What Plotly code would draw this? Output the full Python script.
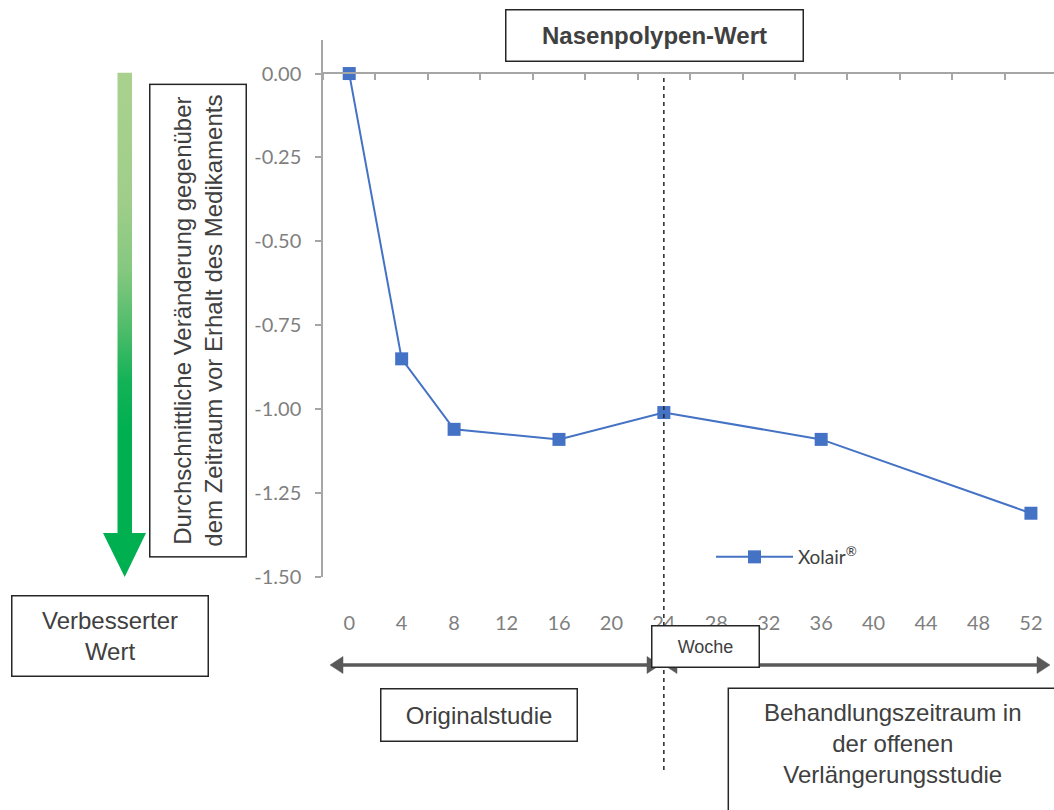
import plotly.graph_objects as go

# ---- data -------------------------------------------------------------
weeks = [0, 4, 8, 16, 24, 36, 52]
xolair_change = [0.00, -0.85, -1.06, -1.09, -1.01, -1.09, -1.31]

x_tick_vals = [0, 4, 8, 12, 16, 20, 24, 28, 32, 36, 40, 44, 48, 52]
x_tick_text = [str(v) for v in x_tick_vals]
y_tick_vals = [0.00, -0.25, -0.50, -0.75, -1.00, -1.25, -1.50]
y_tick_text = ["0.00", "-0.25", "-0.50", "-0.75", "-1.00", "-1.25", "-1.50"]

series_name = "Xolair<sup>®</sup>"
title_text = "Nasenpolypen-Wert"
y_title_text = "Durchschnittliche Veränderung gegenüber<br>dem Zeitraum vor Erhalt des Medikaments"
improved_text = "Verbesserter<br>Wert"
x_title_text = "Woche"
phase1_text = "Originalstudie"
phase2_text = "Behandlungszeitraum in<br>der offenen<br>Verlängerungsstudie"
split_week = 24

# ---- page geometry (pixels) ------------------------------------------
W, H = 1054, 810


def px(x):
    return x / W


def py(y):
    return 1 - y / H


SANS = "Liberation Sans, Arial, sans-serif"
HUMAN = "Lato, Open Sans, sans-serif"
TXT = "#404040"
AXIS = "#a6a6a6"
BLUE = "#4472c4"

fig = go.Figure()

fig.add_trace(go.Scatter(
    x=weeks, y=xolair_change, name=series_name, mode="lines+markers",
    line=dict(color=BLUE, width=2),
    marker=dict(symbol="square", size=13, color=BLUE),
    xaxis="x", yaxis="y",
))

# empty trace so the zero-line axis (x2) gets drawn
fig.add_trace(go.Scatter(x=[], y=[], xaxis="x2", yaxis="y",
                         showlegend=False, hoverinfo="skip"))

# gradient arrow on a pixel-unit overlay axis
arrow_x = [117.5, 132, 132, 146, 124.7, 103, 117.5, 117.5]
arrow_y = [72.7, 72.7, 533, 533, 577, 533, 533, 72.7]
fig.add_trace(go.Scatter(
    x=arrow_x, y=arrow_y, mode="lines", line=dict(width=0),
    fill="toself",
    fillgradient=dict(
        type="vertical", start=72.7, stop=577,
        colorscale=[[0.0, "#a9d18e"], [0.25, "#a0ce8a"], [0.39, "#86c880"],
                    [0.51, "#4dbc6a"], [0.61, "#14b257"], [0.71, "#00b050"],
                    [1.0, "#00b050"]],
    ),
    showlegend=False, hoverinfo="skip", xaxis="x3", yaxis="y3",
))

plot_left, plot_top, plot_bottom = 323, 40, 577

fig.update_layout(
    width=W, height=H, autosize=False,
    margin=dict(l=0, r=0, t=0, b=0, pad=0, autoexpand=False),
    paper_bgcolor="white", plot_bgcolor="rgba(0,0,0,0)",
    showlegend=True,
    legend=dict(x=px(711), y=py(557), xanchor="left", yanchor="middle",
                itemwidth=77,
                bgcolor="rgba(0,0,0,0)", font=dict(family=HUMAN, size=19, color=TXT)),
    xaxis=dict(
        domain=[px(plot_left), 1.0], range=[-2, 53.76], anchor="y",
        showline=False, showgrid=False, zeroline=False, ticks="",
        tickmode="array", tickvals=x_tick_vals, ticktext=x_tick_text,
        tickfont=dict(family=HUMAN, size=20, color="#7f7f7f"),
        ticklabelstandoff=32, automargin=False,
    ),
    xaxis2=dict(
        overlaying="x", anchor="free", position=py(73), side="bottom",
        range=[-2, 53.76], showline=True, linecolor=AXIS, linewidth=1.5,
        ticks="outside", ticklen=6, tickwidth=1.5, tickcolor=AXIS,
        tickmode="linear", tick0=2, dtick=4, showticklabels=False,
        showgrid=False, zeroline=False, automargin=False,
    ),
    yaxis=dict(
        domain=[py(plot_bottom), py(plot_top)], range=[-1.5, 0.1], anchor="x",
        showline=True, linecolor=AXIS, linewidth=1.5,
        ticks="outside", ticklen=6, tickwidth=1.5, tickcolor=AXIS,
        tickmode="array", tickvals=y_tick_vals, ticktext=y_tick_text,
        tickfont=dict(family=HUMAN, size=20, color="#7f7f7f"),
        ticklabelstandoff=10, showgrid=False, zeroline=False, automargin=False,
    ),
    xaxis3=dict(domain=[0, 1], range=[0, W], anchor="y3", visible=False,
                fixedrange=True, automargin=False),
    yaxis3=dict(domain=[0, 1], range=[H, 0], anchor="x3", visible=False,
                fixedrange=True, automargin=False),
)

# dashed separator at the end of the original study
fig.add_shape(type="line", xref="x", yref="paper", x0=split_week, x1=split_week,
              y0=py(770), y1=py(74), line=dict(color="#262626", width=1.5, dash="4px,4px"))

# open-ended box for the extension phase
fig.add_shape(type="rect", xref="paper", yref="paper",
              x0=px(728.3), x1=px(1058), y0=py(850), y1=py(688.3),
              line=dict(color="#262626", width=1.5), fillcolor="white", layer="above")

# double-headed period arrows
ARROW = "#595959"
ARROW_Y, HEAD_LEN, HEAD_HALF = 665, 13, 8.5


def period_arrow(x_left, x_right):
    fig.add_shape(type="line", xref="paper", yref="paper",
                  x0=px(x_left + HEAD_LEN - 1), x1=px(x_right - HEAD_LEN + 1),
                  y0=py(ARROW_Y), y1=py(ARROW_Y),
                  line=dict(color=ARROW, width=3.5))
    for tip, base in [(x_left, x_left + HEAD_LEN), (x_right, x_right - HEAD_LEN)]:
        path = (f"M {px(tip)},{py(ARROW_Y)} L {px(base)},{py(ARROW_Y - HEAD_HALF)} "
                f"L {px(base)},{py(ARROW_Y + HEAD_HALF)} Z")
        fig.add_shape(type="path", xref="paper", yref="paper", path=path,
                      fillcolor=ARROW, line=dict(color=ARROW, width=0.5))


period_arrow(330, 660)
period_arrow(664, 1050)


def box(text, cx, cy, w, h, size=24, bold=False, angle=0):
    fig.add_annotation(
        xref="paper", yref="paper", x=px(cx), y=py(cy),
        xanchor="center", yanchor="middle", text=f"<b>{text}</b>" if bold else text,
        showarrow=False, textangle=angle, width=w, height=h, align="center",
        valign="middle", bgcolor="white", bordercolor="#262626", borderwidth=1.5,
        borderpad=0, font=dict(family=SANS, size=size, color=TXT),
    )


box(title_text, 654, 35.5, 296, 50, bold=True)
box(y_title_text, 198.3, 320.3, 471, 95, angle=-90)
box(improved_text, 109.5, 635.5, 195, 79)
box(phase1_text, 478.5, 714.7, 195, 51)
box(x_title_text, 705, 646.7, 106, 40, size=18)

fig.add_annotation(xref="paper", yref="paper", x=px(893), y=py(743),
                   xanchor="center", yanchor="middle", text=phase2_text,
                   showarrow=False, align="center",
                   font=dict(family=SANS, size=24, color=TXT))

fig.write_html("out.html")
